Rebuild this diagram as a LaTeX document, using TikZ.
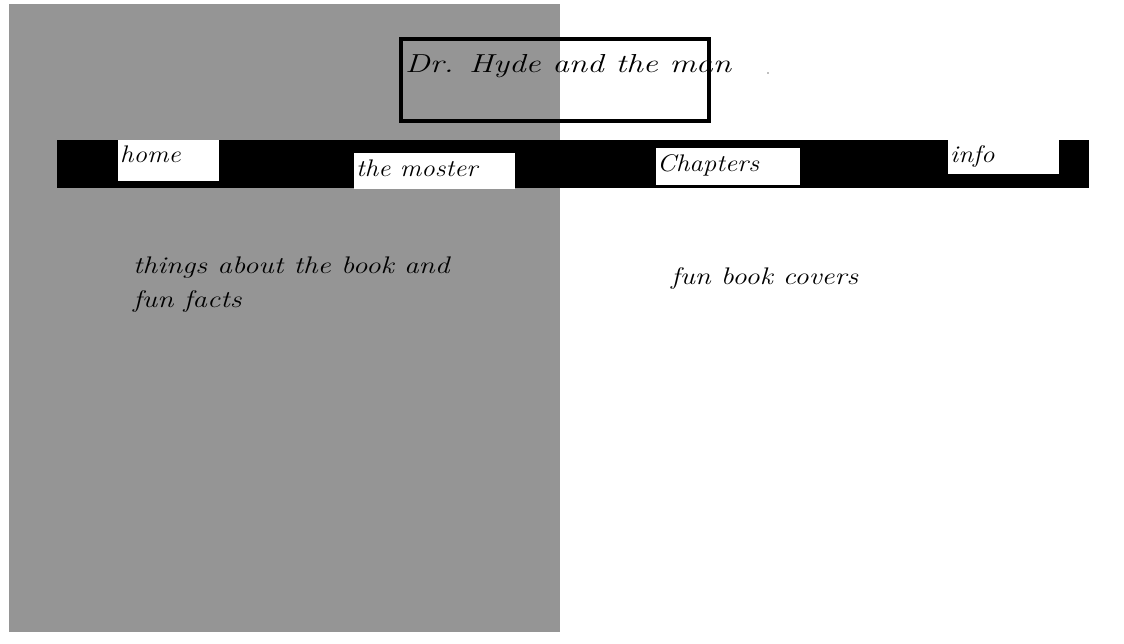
\documentclass[tikz,border=0pt]{standalone}
\usepackage{graphicx}
\tikzset{
  lbl/.style={inner sep=0pt, anchor=base west, font=\fontsize{24}{30}\selectfont\itshape},
  navbox/.style={fill=white, draw=none},
}
\begin{document}
\begin{tikzpicture}[x=1pt,y=-1pt]
\useasboundingbox[fill=white] (0,0) rectangle (1124,644);
% gray left panel
\fill[fill={rgb,255:red,149;green,149;blue,149}] (9,4) rectangle (560,632);
% title box
\draw[line width=4pt] (401,39) rectangle (709,121);
\node[lbl, font=\fontsize{26}{30}\selectfont\itshape] (title) at (405,73) {\scalebox{1.28}[1]{Dr. Hyde and the man}};
\fill[gray] (768,73) circle (0.8);
% nav bar
\fill[black] (57,140) rectangle (1089,188);
\fill[navbox] (118,140) rectangle (219,181);
\fill[navbox] (354,153) rectangle (515,189);
\fill[navbox] (656,148) rectangle (800,185);
\fill[navbox] (948,140) rectangle (1059,174);
\node[lbl] (home) at (120,163) {\scalebox{1.12}[1]{home}};
\node[lbl] (moster) at (356,177) {\scalebox{1.12}[1]{the moster}};
\node[lbl] (chap) at (657,172) {\scalebox{1.12}[1]{Chapters}};
\node[lbl] (info) at (950,163) {\scalebox{1.12}[1]{info}};
% content texts
\node[lbl] (things) at (133,274) {\scalebox{1.22}[1]{things about the book and}};
\node[lbl] (facts) at (133,308) {\scalebox{1.22}[1]{fun facts}};
\node[lbl] (covers) at (671,285) {\scalebox{1.2}[1]{fun book covers}};
\end{tikzpicture}
\end{document}
